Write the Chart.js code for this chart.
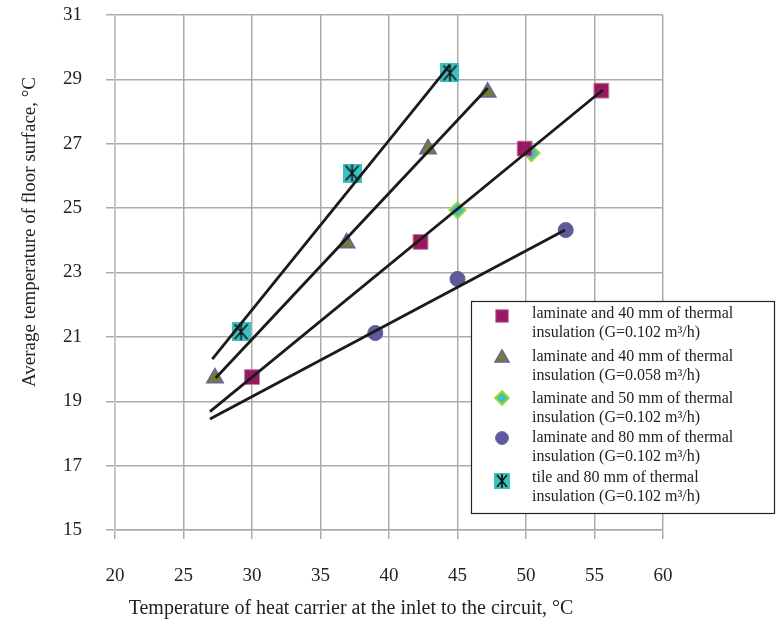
<!DOCTYPE html>
<html>
<head>
<meta charset="utf-8">
<script src="https://cdn.jsdelivr.net/npm/chart.js@4/dist/chart.umd.min.js"></script>
<style>
  html, body { margin: 0; padding: 0; background: #fff; }
  #wrap { width: 776px; height: 628px; }
</style>
</head>
<body>
<div id="wrap"><canvas id="floorChart" width="776" height="628"></canvas></div>
<script>
// measured points (x = inlet temp, y = floor surface temp)
const sqX   = [30.0, 42.3, 49.9, 55.5];
const sqY   = [19.75, 23.95, 26.85, 28.65];
const triX  = [27.3, 36.9, 42.85, 47.2];
const triY  = [19.72, 23.92, 26.84, 28.6];
const diaX  = [45.0, 50.4];
const diaY  = [24.94, 26.71];
const cirX  = [39.0, 45.0, 52.9];
const cirY  = [21.12, 22.8, 24.32];
const tileX = [29.2, 37.3, 44.45];
const tileY = [21.16, 26.09, 29.2];

// trend lines (end points)
const tileTrendX = [27.1, 44.45];
const tileTrendY = [20.31, 29.45];
const triTrendX  = [27.35, 47.2];
const triTrendY  = [19.72, 28.73];
const sqTrendX   = [26.93, 55.6];
const sqTrendY   = [18.68, 28.67];
const cirTrendX  = [26.93, 52.85];
const cirTrendY  = [18.45, 24.32];

const legendLine1 = [
  'laminate and 40 mm of thermal',
  'laminate and 40 mm of thermal',
  'laminate and 50 mm of thermal',
  'laminate and 80 mm of thermal',
  'tile and 80 mm of thermal'
];
const legendLine2 = [
  'insulation (G=0.102 m³/h)',
  'insulation (G=0.058 m³/h)',
  'insulation (G=0.102 m³/h)',
  'insulation (G=0.102 m³/h)',
  'insulation (G=0.102 m³/h)'
];

const xTitle = 'Temperature of heat carrier at the inlet to the circuit, °C';
const yTitle = 'Average temperature of floor surface, °C';

const FONT = '"Liberation Serif", "Times New Roman", serif';

function pts(xs, ys) {
  return xs.map((x, i) => ({ x, y: ys[i] }));
}

// tile marker: cyan square with black asterisk
function makeTileMarker(size) {
  const c = document.createElement('canvas');
  c.width = size; c.height = size;
  const g = c.getContext('2d');
  g.fillStyle = '#3cc1c1';
  g.fillRect(0, 0, size, size);
  g.strokeStyle = '#111';
  g.lineWidth = 1.6;
  g.beginPath();
  g.moveTo(3, 2); g.lineTo(size - 3, size - 2);
  g.moveTo(size - 3, 2); g.lineTo(3, size - 2);
  g.moveTo(size / 2, 1); g.lineTo(size / 2, size - 1);
  g.stroke();
  return c;
}
const tileMarker = makeTileMarker(19);
const tileMarkerSmall = makeTileMarker(16);

function lineSet(xs, ys) {
  return {
    type: 'line',
    data: pts(xs, ys),
    borderColor: '#1a1a1a',
    borderWidth: 2.8,
    pointRadius: 0,
    fill: false,
    order: 0
  };
}

const markerSets = [
  { label: 'sq', data: pts(sqX, sqY), pointStyle: 'rect', pointRadius: 10.5,
    backgroundColor: '#98195f', borderColor: '#c47fa4', borderWidth: 1 },
  { label: 'tri', data: pts(triX, triY), pointStyle: 'triangle', pointRadius: 9.5,
    backgroundColor: '#7a7a36', borderColor: '#6464a4', borderWidth: 1.5 },
  { label: 'dia', data: pts(diaX, diaY), pointStyle: 'rectRot', pointRadius: 8,
    backgroundColor: '#3cc1c1', borderColor: '#9cd633', borderWidth: 2 },
  { label: 'cir', data: pts(cirX, cirY), pointStyle: 'circle', pointRadius: 7.5,
    backgroundColor: '#5c5c9c', borderColor: '#5c5c9c', borderWidth: 1 },
  { label: 'tile', data: pts(tileX, tileY), pointStyle: tileMarker, pointRadius: 9.5,
    backgroundColor: '#3cc1c1', borderColor: '#3cc1c1', borderWidth: 0 }
].map(d => Object.assign(d, { showLine: false, order: 1 }));

// axis titles + boxed legend
const decorPlugin = {
  id: 'decor',
  afterDraw(chart) {
    const ctx = chart.ctx;
    ctx.save();
    ctx.fillStyle = '#222';
    ctx.textAlign = 'center';
    ctx.textBaseline = 'middle';
    ctx.font = '20px ' + FONT;
    ctx.fillText(xTitle, 351, 609);

    ctx.font = '19px ' + FONT;
    ctx.save();
    ctx.translate(30, 232);
    ctx.rotate(-Math.PI / 2);
    ctx.fillText(yTitle, 0, 0);
    ctx.restore();

    // legend box
    const bx = 471, by = 301, bw = 304, bh = 213;
    ctx.fillStyle = '#fff';
    ctx.fillRect(bx, by, bw, bh);
    ctx.strokeStyle = '#222';
    ctx.lineWidth = 1.2;
    ctx.strokeRect(bx + 0.5, by + 0.5, bw - 1, bh - 1);

    const rowY = [314, 357, 399, 438, 478];
    const markerDy = [2, 1, -1, 0, 3];
    ctx.font = '16px ' + FONT;
    ctx.textAlign = 'left';
    markerSets.forEach((ds, i) => {
      const mx = 502, my = rowY[i] + markerDy[i];
      const style = ds.pointStyle === tileMarker ? tileMarkerSmall : ds.pointStyle;
      ctx.fillStyle = ds.backgroundColor;
      ctx.strokeStyle = ds.borderColor;
      ctx.lineWidth = ds.borderWidth;
      Chart.helpers.drawPoint(ctx, {
        pointStyle: style,
        radius: ds.pointRadius * 0.85,
        rotation: 0,
        borderWidth: ds.borderWidth
      }, mx, my);
      ctx.fillStyle = '#222';
      ctx.fillText(legendLine1[i], 532, rowY[i]);
      ctx.fillText(legendLine2[i], 532, rowY[i] + 19);
    });
    ctx.restore();
  }
};

function initChart() {
  const canvas = document.getElementById('floorChart');
  if (typeof Chart === 'undefined') {
    console.warn('Chart.js not found');
    return;
  }

  new Chart(canvas.getContext('2d'), {
    type: 'scatter',
    data: {
      datasets: [
        lineSet(tileTrendX, tileTrendY),
        lineSet(triTrendX, triTrendY),
        lineSet(sqTrendX, sqTrendY),
        lineSet(cirTrendX, cirTrendY),
        ...markerSets
      ]
    },
    options: {
      responsive: false,
      animation: false,
      layout: { padding: { left: 0, top: 15, right: 113, bottom: 0 } },
      plugins: {
        legend: { display: false },
        tooltip: { enabled: false }
      },
      scales: {
        x: {
          type: 'linear',
          min: 20, max: 60,
          afterFit: (s) => { s.height = 98; s.paddingLeft = 0; s.paddingRight = 0; },
          ticks: {
            stepSize: 5,
            padding: 26,
            color: '#222',
            font: { family: FONT, size: 19 }
          },
          grid: { color: '#ababab', lineWidth: 1.5, tickLength: 9 },
          border: { color: '#ababab', width: 1.5 }
        },
        y: {
          type: 'linear',
          min: 15, max: 31,
          afterFit: (s) => { s.width = 115; s.paddingTop = 0; s.paddingBottom = 0; },
          ticks: {
            stepSize: 2,
            padding: 24,
            color: '#222',
            font: { family: FONT, size: 19 }
          },
          grid: { color: '#ababab', lineWidth: 1.5, tickLength: 9 },
          border: { color: '#c6c6c6', width: 2 }
        }
      }
    },
    plugins: [decorPlugin]
  });
}

if (document.readyState === 'loading') {
  document.addEventListener('DOMContentLoaded', initChart);
} else {
  initChart();
}
</script>
</body>
</html>
